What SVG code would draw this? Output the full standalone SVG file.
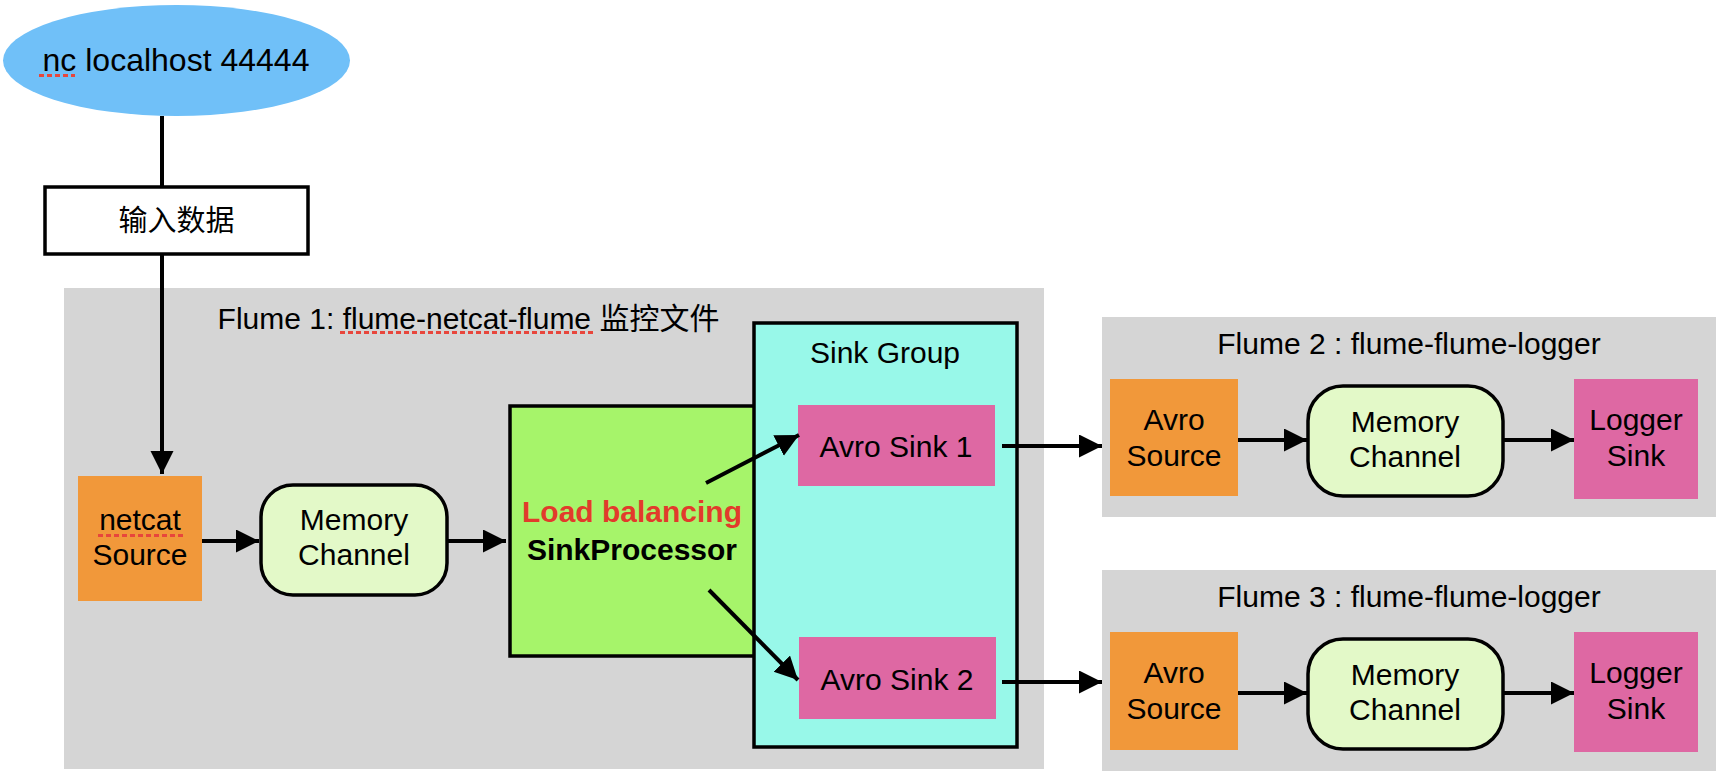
<svg xmlns="http://www.w3.org/2000/svg" width="1726" height="782" viewBox="0 0 1726 782">
<style>
text{font-family:"Liberation Sans",Arial,"Noto Sans CJK SC",sans-serif;font-size:30px;fill:#000;text-anchor:middle}
.big{font-size:32px}
.title{font-size:30px}
.bold{font-weight:bold}
.red{fill:#e23b2b}
.panel{fill:#d5d5d5}
.src{fill:#f1983a}
.sink{fill:#de68a3}
.mem{fill:#e3f9c8;stroke:#000;stroke-width:3.5}
.edge{stroke:#000;stroke-width:4;fill:none}
.spell{stroke:#e8463c;stroke-width:3;stroke-dasharray:5 3;fill:none}
</style>
<defs>
<marker id="ah" markerUnits="userSpaceOnUse" markerWidth="24" markerHeight="24" refX="23" refY="11.5" orient="auto">
<path d="M0,0 L23,11.5 L0,23 z" fill="#000"/>
</marker>
</defs>

<g id="nc">
<ellipse cx="176.5" cy="60.5" rx="173.5" ry="55.5" fill="#70c0f8"/>
<text class="big" x="176" y="71">nc localhost 44444</text>
<line class="spell" x1="39" y1="75.5" x2="75" y2="75.5"/>
</g>

<g id="input">
<rect x="45" y="187" width="263" height="67" fill="#fff" stroke="#000" stroke-width="3.5"/>
<text x="176.5" y="231" style="font-size:29px">输入数据</text>
</g>

<g id="flume1">
<rect class="panel" x="64" y="288" width="980" height="481"/>
<text class="title" x="468.5" y="329">Flume 1: flume-netcat-flume 监控文件</text>
<line class="spell" x1="340" y1="332.5" x2="596" y2="332.5"/>
</g>

<g id="netcat-source">
<rect class="src" x="78" y="476" width="124" height="125"/>
<text x="140" y="530">netcat</text>
<text x="140" y="565">Source</text>
<line class="spell" x1="98" y1="535.5" x2="185" y2="535.5"/>
</g>

<g id="memory-channel-1">
<rect class="mem" x="261" y="485" width="186" height="110" rx="32" ry="32"/>
<text x="354" y="530">Memory</text>
<text x="354" y="565">Channel</text>
</g>

<g id="sink-processor">
<rect x="510" y="406" width="250" height="250" fill="#a6f46a" stroke="#000" stroke-width="3.5"/>
<text class="bold red" x="632" y="522">Load balancing</text>
<text class="bold" x="632" y="560">SinkProcessor</text>
</g>

<g id="sink-group">
<rect x="754" y="323" width="263" height="424" fill="#98f8e9" stroke="#000" stroke-width="3.5"/>
<text x="885" y="363">Sink Group</text>
</g>

<g id="avro-sink-1">
<rect class="sink" x="798" y="405" width="197" height="81"/>
<text x="896" y="457">Avro Sink 1</text>
</g>

<g id="avro-sink-2">
<rect class="sink" x="799" y="637" width="197" height="82"/>
<text x="897" y="690">Avro Sink 2</text>
</g>

<g id="flume2">
<rect class="panel" x="1102" y="317" width="614" height="200"/>
<text class="title" x="1409" y="354">Flume 2 : flume-flume-logger</text>
</g>
<g id="avro-source-2">
<rect class="src" x="1110" y="379" width="128" height="117"/>
<text x="1174" y="430">Avro</text>
<text x="1174" y="466">Source</text>
</g>
<g id="memory-channel-2">
<rect class="mem" x="1308" y="386" width="195" height="110" rx="35" ry="35"/>
<text x="1405" y="432">Memory</text>
<text x="1405" y="467">Channel</text>
</g>
<g id="logger-sink-2">
<rect class="sink" x="1574" y="379" width="124" height="120"/>
<text x="1636" y="430">Logger</text>
<text x="1636" y="466">Sink</text>
</g>

<g id="flume3">
<rect class="panel" x="1102" y="570" width="614" height="201"/>
<text class="title" x="1409" y="607">Flume 3 : flume-flume-logger</text>
</g>
<g id="avro-source-3">
<rect class="src" x="1110" y="632" width="128" height="118"/>
<text x="1174" y="683">Avro</text>
<text x="1174" y="719">Source</text>
</g>
<g id="memory-channel-3">
<rect class="mem" x="1308" y="639" width="195" height="110" rx="35" ry="35"/>
<text x="1405" y="685">Memory</text>
<text x="1405" y="720">Channel</text>
</g>
<g id="logger-sink-3">
<rect class="sink" x="1574" y="632" width="124" height="120"/>
<text x="1636" y="683">Logger</text>
<text x="1636" y="719">Sink</text>
</g>

<g id="connectors">
<line class="edge" x1="162" y1="116" x2="162" y2="187"/>
<line class="edge" x1="162" y1="254" x2="162" y2="474" marker-end="url(#ah)"/>
<line class="edge" x1="202" y1="541" x2="259" y2="541" marker-end="url(#ah)"/>
<line class="edge" x1="447" y1="541" x2="506" y2="541" marker-end="url(#ah)"/>
<line class="edge" x1="706" y1="483" x2="799" y2="435" marker-end="url(#ah)"/>
<line class="edge" x1="709" y1="590" x2="798" y2="680" marker-end="url(#ah)"/>
<line class="edge" x1="1002" y1="446" x2="1102" y2="446" marker-end="url(#ah)"/>
<line class="edge" x1="1002" y1="682" x2="1102" y2="682" marker-end="url(#ah)"/>
<line class="edge" x1="1238" y1="440" x2="1307" y2="440" marker-end="url(#ah)"/>
<line class="edge" x1="1503" y1="440" x2="1574" y2="440" marker-end="url(#ah)"/>
<line class="edge" x1="1238" y1="693" x2="1307" y2="693" marker-end="url(#ah)"/>
<line class="edge" x1="1503" y1="693" x2="1574" y2="693" marker-end="url(#ah)"/>
</g>
</svg>
